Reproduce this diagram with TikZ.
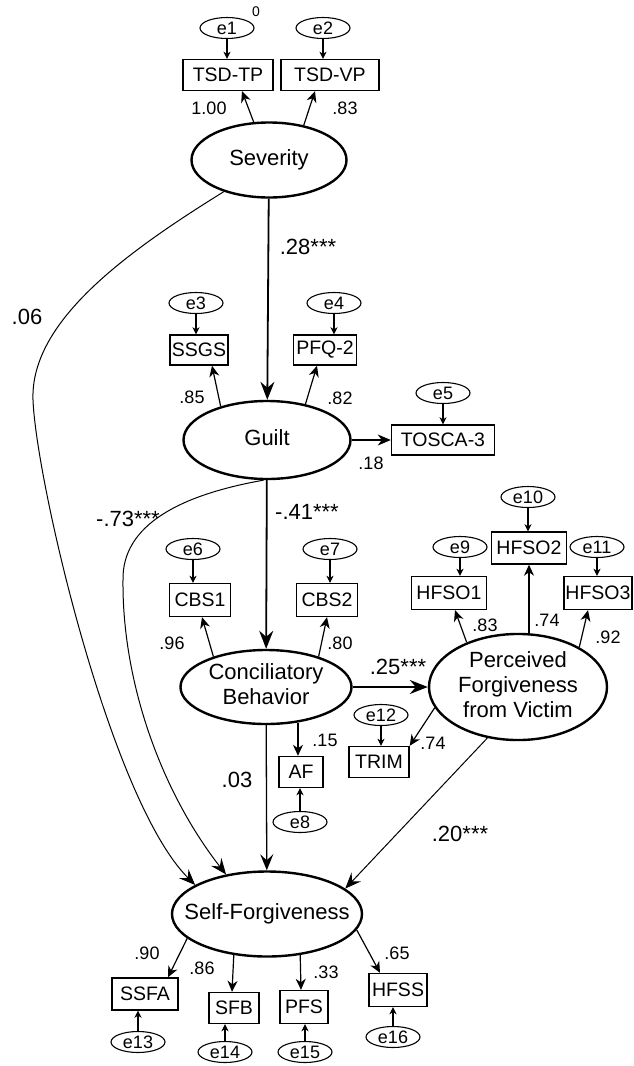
\documentclass[tikz,border=0pt]{standalone}
\usepackage{fontspec}
\setmainfont{Liberation Sans}
\usetikzlibrary{shapes.geometric, arrows.meta, positioning}
\newcommand{\lvtext}[1]{\makebox[0pt]{\begin{tabular}{@{}c@{}}#1\end{tabular}}}
\tikzset{
  latent/.style={draw, ellipse, line width=2.4pt, inner sep=0pt, font=\fontsize{22}{25}\selectfont},
  errvar/.style={draw, ellipse, line width=1.1pt, minimum width=54pt, minimum height=21pt, inner sep=0pt, font=\fontsize{18}{20}\selectfont},
  obsbox/.style={draw, rectangle, line width=1.4pt, minimum height=31pt, inner sep=0pt, font=\fontsize{19.5}{21}\selectfont},
  coef/.style={inner sep=0pt, font=\fontsize{18}{20}\selectfont},
  pathcoef/.style={inner sep=0pt, font=\fontsize{22}{24}\selectfont},
  structarrow/.style={line width=1.8pt, -{Stealth[length=18pt, width=14pt, inset=6pt]}},
  thinarrow/.style={line width=1pt, -{Stealth[length=16pt, width=13pt, inset=6pt]}},
  midarrow/.style={line width=1.4pt, -{Stealth[length=13pt, width=11pt, inset=4pt]}},
  loadarrow/.style={line width=1.2pt, -{Stealth[length=11pt, width=10pt, inset=3.5pt]}},
  errarrow/.style={line width=1.1pt, -{Stealth[length=7pt, width=7pt, inset=2pt]}}
}
\begin{document}
\begin{tikzpicture}[x=1pt, y=-1pt]
\useasboundingbox (0,0) rectangle (634,1066);

\node[latent, minimum width=155pt, minimum height=75pt] (sev) at (269,160) {\lvtext{Severity}};
\node[latent, minimum width=167pt, minimum height=78pt] (guilt) at (267,440) {\lvtext{Guilt}};
\node[latent, minimum width=171pt, minimum height=74pt] (conc) at (266,687) {\lvtext{Conciliatory\\Behavior}};
\node[latent, minimum width=178pt, minimum height=103pt] (perc) at (518,687) {\lvtext{Perceived\\Forgiveness\\from Victim}};
\node[latent, minimum width=190pt, minimum height=85pt] (sf) at (267,914) {\lvtext{Self-Forgiveness}};

\node[obsbox, minimum width=90pt] (tsdtp) at (228,75) {TSD-TP};
\node[obsbox, minimum width=98pt] (tsdvp) at (330,75) {TSD-VP};
\node[obsbox, minimum width=58pt, minimum height=30pt] (ssgs) at (199,350) {SSGS};
\node[obsbox, minimum width=63pt, minimum height=30pt] (pfq) at (325,350) {PFQ-2};
\node[obsbox, minimum width=103pt, minimum height=30pt] (tosca) at (443,440) {TOSCA-3};
\node[obsbox, minimum width=61pt, minimum height=33pt] (cbs1) at (200,600) {CBS1};
\node[obsbox, minimum width=61pt, minimum height=33pt] (cbs2) at (327,600) {CBS2};
\node[obsbox, minimum width=75pt, minimum height=33pt] (hfso1) at (449,593) {HFSO1};
\node[obsbox, minimum width=75pt, minimum height=32pt] (hfso2) at (529,548) {HFSO2};
\node[obsbox, minimum width=68pt, minimum height=33pt] (hfso3) at (598,593) {HFSO3};
\node[obsbox, minimum width=60pt] (trim) at (379,762) {TRIM};
\node[obsbox, minimum width=44pt] (af) at (301,772) {AF};
\node[obsbox, minimum width=66pt, minimum height=32pt] (ssfa) at (145,994) {SSFA};
\node[obsbox, minimum width=50pt] (sfb) at (234,1008) {SFB};
\node[obsbox, minimum width=48pt, minimum height=33pt] (pfs) at (304,1007) {PFS};
\node[obsbox, minimum width=58pt, minimum height=33pt] (hfss) at (398,990) {HFSS};

\node[errvar] (e1) at (227,28) {e1};
\node[errvar] (e2) at (323,28) {e2};
\node[coef, font=\fontsize{14}{14}\selectfont] (zero) at (256,12) {0};
\node[errvar] (e3) at (196,303) {e3};
\node[errvar] (e4) at (334,303) {e4};
\node[errvar] (e5) at (443,393) {e5};
\node[errvar] (e6) at (193,549) {e6};
\node[errvar] (e7) at (330,549) {e7};
\node[errvar] (e8) at (300,822) {e8};
\node[errvar] (e9) at (460,547) {e9};
\node[errvar] (e10) at (528,497) {e10};
\node[errvar] (e11) at (597,547) {e11};
\node[errvar] (e12) at (381,715) {e12};
\node[errvar] (e13) at (138,1042) {e13};
\node[errvar] (e14) at (225,1052) {e14};
\node[errvar] (e15) at (305,1052) {e15};
\node[errvar] (e16) at (393,1037) {e16};

\foreach \e/\b in {e1/tsdtp, e2/tsdvp, e3/ssgs, e4/pfq, e5/tosca, e6/cbs1, e7/cbs2, e9/hfso1, e10/hfso2, e11/hfso3, e12/trim}
  \draw[errarrow] (\e.south) -- (\e.south |- \b.north);
\foreach \e/\b in {e8/af, e13/ssfa, e14/sfb, e15/pfs, e16/hfss}
  \draw[errarrow] (\e.north) -- (\e.north |- \b.south);

\draw[loadarrow] (sev.112) -- ([xshift=14pt]tsdtp.south);
\draw[loadarrow] (sev.45) -- ([xshift=-15pt]tsdvp.south);
\draw[loadarrow] (guilt.144) -- ([xshift=13pt]ssgs.south);
\draw[loadarrow] (guilt.43) -- ([xshift=-8pt]pfq.south);
\draw[loadarrow] (conc.150) -- ([xshift=2pt]cbs1.south);
\draw[loadarrow] (conc.30) -- (cbs2.south);
\draw[loadarrow] (perc.139) -- ([xshift=6pt]hfso1.south);
\draw[loadarrow] (hfso2.south |- perc.north) -- (hfso2.south);
\draw[loadarrow] (perc.33) -- ([xshift=-10pt]hfso3.south);
\draw[loadarrow] (perc.194) -- (trim.north east);
\draw[loadarrow] (conc.312) -- (conc.312 |- af.north);
\draw[loadarrow] (sf.197) -- ([xshift=23pt]ssfa.north);
\draw[loadarrow] (sf.231) -- ([xshift=-2pt]sfb.north);
\draw[loadarrow] (sf.309) -- ([xshift=-3pt]pfs.north);
\draw[loadarrow] (sf.350) -- ([xshift=-18pt]hfss.north);

\draw[structarrow] (sev) -- (guilt);
\draw[structarrow] (guilt) -- (conc);
\draw[structarrow] (conc) -- (perc);
\draw[midarrow] (guilt) -- (tosca);
\draw[thinarrow, line width=1.3pt] (conc) -- (sf);
\draw[thinarrow] (perc.239) -- (sf.18);
\draw[thinarrow] (sev.215) .. controls (130,250) and (30,320) .. (33,400)
  .. controls (36,480) and (110,800) .. (sf.158);
\draw[thinarrow] (guilt.265) .. controls (180,495) and (122,525) .. (123,580)
  .. controls (122,680) and (160,790) .. (sf.136);

\node[coef] (l100) at (209,108) {1.00};
\node[coef] (l83a) at (345,108) {.83};
\node[coef] (l85) at (192,397) {.85};
\node[coef] (l82) at (340,398) {.82};
\node[coef] (l18) at (371,463) {.18};
\node[coef] (l96) at (172,643) {.96};
\node[coef] (l80) at (340,643) {.80};
\node[coef] (l83b) at (485,625) {.83};
\node[coef] (l74a) at (547,620) {.74};
\node[coef] (l92) at (608,637) {.92};
\node[coef] (l74b) at (433,743) {.74};
\node[coef] (l15) at (325,740) {.15};
\node[coef] (l90) at (147,953) {.90};
\node[coef] (l86) at (202,968) {.86};
\node[coef] (l33) at (326,972) {.33};
\node[coef] (l65) at (397,953) {.65};

\node[pathcoef] (p28) at (308,247) {.28***};
\node[pathcoef] (p06) at (27,317) {.06};
\node[pathcoef] (p73) at (128,519) {-.73***};
\node[pathcoef] (p41) at (307,512) {-.41***};
\node[pathcoef] (p25) at (398,667) {.25***};
\node[pathcoef] (p03) at (237,780) {.03};
\node[pathcoef] (p20) at (460,834) {.20***};
\end{tikzpicture}
\end{document}
